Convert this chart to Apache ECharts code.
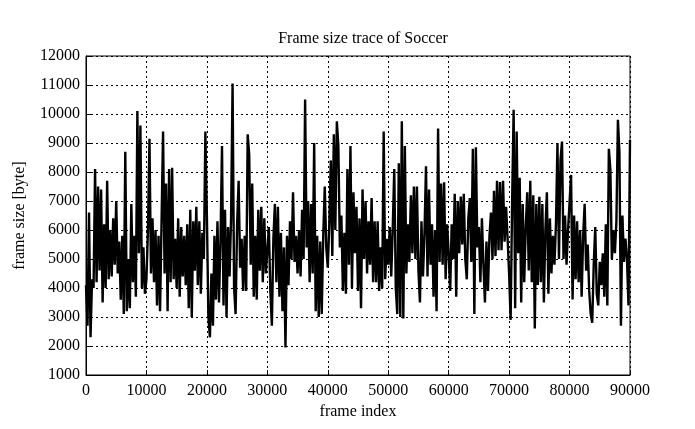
<!DOCTYPE html>
<html>
<head>
<meta charset="utf-8">
<script src="https://cdn.jsdelivr.net/npm/echarts@6/dist/echarts.min.js"></script>
<style>
html,body{margin:0;padding:0;background:#fff;}
#chart{width:695px;height:429px;}
</style>
</head>
<body>
<div id="chart"></div>
<script>
const sampleStep = 250;
const frameSizes = [
  4100,2700,6600,2300,4300,4000,8100,4200,7500,4600,7400,3500,6200,4000,7700,4300,6000,4400,6400,4800,
  7000,4500,5600,3600,5800,3100,8700,3200,5000,3300,6900,4200,5800,3700,10100,5200,9600,4000,5400,3800,
  4300,6000,9150,4500,6400,4200,6000,3400,5800,3200,6300,9400,4500,7600,3200,8100,4200,8150,4300,5700,
  4000,6400,3700,6100,4400,5800,4100,6200,3300,6700,3000,6300,4600,6800,4100,6300,3800,5900,5000,9400,
  6500,3000,2300,4500,2700,5800,3600,6300,3500,5600,8900,3400,6700,3000,6100,4400,6400,11050,4000,3100,
  6200,7700,4700,5700,3900,5800,3900,9300,8600,4800,7600,3700,5800,3600,6700,4600,6800,4200,6400,4500,
  4500,6100,3900,2700,5700,6900,4200,6800,3700,5900,3200,5400,1950,5800,4100,6300,5000,7300,4900,5800,
  4500,6000,4400,6700,5000,10500,5400,7000,4200,6900,4500,9000,3200,5800,3000,5600,3100,5800,7500,5400,
  4700,6200,8400,5100,9300,6000,9750,8900,5400,6500,3900,5900,3800,8100,4800,8900,4000,7300,5200,6800,
  3900,6400,3300,7400,5000,7000,4500,6300,4800,7100,4200,6300,4200,6300,3900,5400,4000,9400,4300,5700,
  4800,6100,4400,6100,8100,4000,3100,8300,3000,9750,2950,8900,4500,6200,4900,7200,5200,7500,5000,7500,
  4600,3500,6300,4400,5900,8200,4400,7400,4800,6200,3700,6000,3200,9500,4900,7600,4800,7650,4300,6200,
  5200,3900,6200,5000,7250,3700,7000,5200,7150,5500,7250,5000,4300,6400,7100,4900,8800,3100,8850,5400,
  6100,4200,6400,4800,3500,5600,3900,5800,6600,5000,7350,5100,7700,5300,7650,5300,7700,5600,6800,5700,
  4500,2900,7000,10150,3300,9400,5200,7800,3500,6900,4200,6100,7300,4600,7700,4200,7200,2600,6900,4100,
  7150,4200,6900,3500,6000,7300,3800,6400,4500,5800,4800,6200,9000,5000,8400,9050,5000,6500,4800,6000,
  6000,7900,3600,6500,4300,6300,4200,6000,3700,5800,6900,4600,5500,3900,3100,2800,4800,6100,3800,3400,
  4900,4100,5200,3700,6200,3400,8800,8100,5000,6000,5200,6300,9800,8700,2700,6500,4900,5700,5000,3400,
  9100
];
const xTicks = [0,10000,20000,30000,40000,50000,60000,70000,80000,90000];
const yTicks = [1000,2000,3000,4000,5000,6000,7000,8000,9000,10000,11000,12000];

const seriesData = frameSizes.map((v, i) => [i * sampleStep, v]);
const font = 'Liberation Serif';

const chart = echarts.init(document.getElementById('chart'), null, {renderer: 'canvas'});
chart.setOption({
  animation: false,
  backgroundColor: '#fff',
  title: {
    text: 'Frame size trace of Soccer',
    left: 358, top: 26, textAlign: 'center',
    textStyle: {fontFamily: font, fontSize: 16, fontWeight: 'normal', color: '#000'}
  },
  grid: {
    left: 86, right: 65, top: 56, bottom: 54,
    show: true, borderColor: '#000', borderWidth: 1, backgroundColor: 'transparent'
  },
  xAxis: {
    type: 'value', min: xTicks[0], max: xTicks[xTicks.length - 1], interval: 10000,
    name: 'frame index', nameLocation: 'middle', nameGap: 29,
    nameTextStyle: {fontFamily: font, fontSize: 16, color: '#000'},
    axisLine: {show: true, lineStyle: {color: '#000', width: 1}},
    axisTick: {show: true, inside: true, length: 5, lineStyle: {color: '#000'}},
    axisLabel: {fontFamily: font, fontSize: 16, color: '#000', margin: 8, formatter: v => String(v)},
    splitLine: {show: true, lineStyle: {color: '#000', type: [2, 3], width: 1}}
  },
  yAxis: {
    type: 'value', min: yTicks[0], max: yTicks[yTicks.length - 1], interval: 1000,
    name: 'frame size [byte]', nameLocation: 'middle', nameGap: 58, nameRotate: 90,
    nameTextStyle: {fontFamily: font, fontSize: 16, color: '#000'},
    axisLine: {show: true, lineStyle: {color: '#000', width: 1}},
    axisTick: {show: true, inside: true, length: 5, lineStyle: {color: '#000'}},
    axisLabel: {fontFamily: font, fontSize: 16, color: '#000', margin: 6, formatter: v => String(v)},
    splitLine: {show: true, lineStyle: {color: '#000', type: [2, 3], width: 1}}
  },
  series: [{
    type: 'line',
    data: seriesData,
    showSymbol: false,
    symbol: 'none',
    lineStyle: {color: '#000', width: 2.4},
    z: 3
  }]
});
</script>
</body>
</html>
